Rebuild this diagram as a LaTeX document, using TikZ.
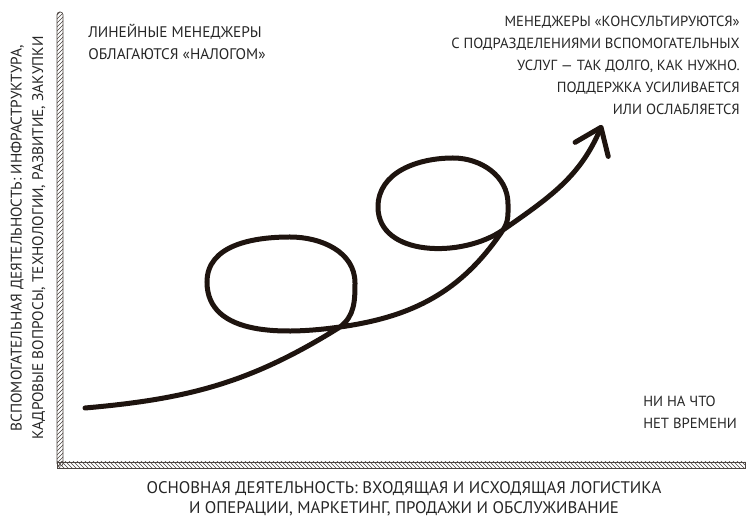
\documentclass[tikz,border=0pt]{standalone}
\usepackage{fontspec}
\setmainfont{PT Sans}
\usetikzlibrary{arrows.meta,patterns,positioning}

\definecolor{ink}{HTML}{1E140F}
\definecolor{txt}{HTML}{262626}

\begin{document}
\begin{tikzpicture}[
    x=0.75pt, y=0.75pt,
    note/.style={font=\fontsize{11}{16.5}\selectfont, text=txt, inner sep=0pt},
    axis/.style={draw=ink!80, line width=0.5pt, pattern color=ink!80},
    route/.style={draw=ink, line width=3.75pt, line cap=round,
        -{Straight Barb[length=18pt, width=27pt, round]}}
]
\useasboundingbox (0,0) rectangle (754,528);

% Axes (hatched bars)
\draw[axis, pattern=north east lines, rounded corners=2pt] (57,62) rectangle (63,516);
\draw[axis, pattern=north west lines] (57,60) rectangle (745,66);

% Axis labels
\node[note, font=\fontsize{11.5}{16}\selectfont, rotate=90, align=center] (ylab) at (28,290)
    {ВСПОМОГАТЕЛЬНАЯ ДЕЯТЕЛЬНОСТЬ: ИНФРАСТРУКТУРА,\\
     КАДРОВЫЕ ВОПРОСЫ, ТЕХНОЛОГИИ, РАЗВИТИЕ, ЗАКУПКИ};
\node[note, font=\fontsize{12.6}{15}\selectfont, align=center] (xlab) at (404,29)
    {ОСНОВНАЯ ДЕЯТЕЛЬНОСТЬ: ВХОДЯЩАЯ И ИСХОДЯЩАЯ ЛОГИСТИКА\\
     И ОПЕРАЦИИ, МАРКЕТИНГ, ПРОДАЖИ И ОБСЛУЖИВАНИЕ};

% Corner notes
\node[note, font=\fontsize{11.5}{16.5}\selectfont, align=left, anchor=north west] (tax) at (88,504)
    {ЛИНЕЙНЫЕ МЕНЕДЖЕРЫ\\ОБЛАГАЮТСЯ «НАЛОГОМ»};
\node[note, align=right, anchor=north east] (consult) at (740,512)
    {МЕНЕДЖЕРЫ «КОНСУЛЬТИРУЮТСЯ»\\
     С ПОДРАЗДЕЛЕНИЯМИ ВСПОМОГАТЕЛЬНЫХ\\
     УСЛУГ — ТАК ДОЛГО, КАК НУЖНО.\\
     ПОДДЕРЖКА УСИЛИВАЕТСЯ\\
     ИЛИ ОСЛАБЛЯЕТСЯ};
\node[note, align=left, anchor=north west] (notime) at (643,132)
    {НИ НА ЧТО\\НЕТ ВРЕМЕНИ};

% Loop points
\coordinate (start) at (85,120);
\coordinate (c1) at (340,201);
\coordinate (r1) at (355,245);
\coordinate (t1) at (290,291);
\coordinate (l1) at (207,246);
\coordinate (c2) at (503,298);
\coordinate (r2) at (508,324);
\coordinate (t2) at (453,370);
\coordinate (l2) at (378,321);
\coordinate (tip) at (602,403);

% Curve with two loops
\draw[route] (start) to[out=5,in=212] (c1) to[out=37,in=270] (r1)
    to[out=90,in=0] (t1) to[out=180,in=90] (l1) to[out=270,in=188] (c1)
    to[out=8,in=236] (c2) to[out=56,in=270] (r2)
    to[out=90,in=0] (t2) to[out=180,in=90] (l2) to[out=270,in=215] (c2)
    to[out=35,in=247] (tip);

\end{tikzpicture}
\end{document}
